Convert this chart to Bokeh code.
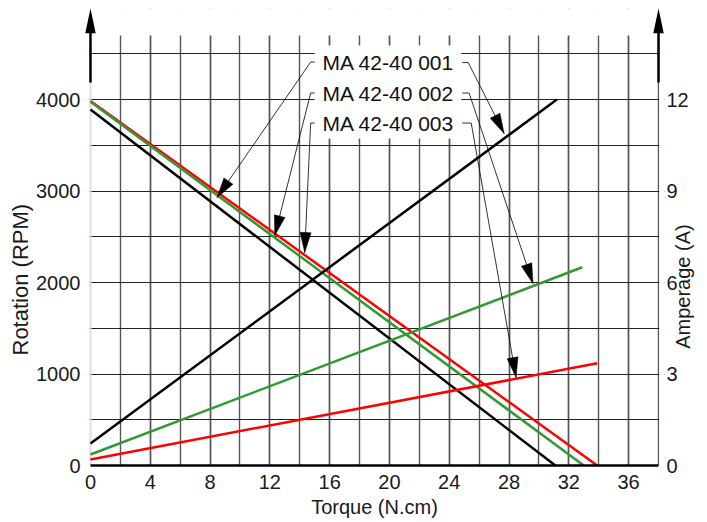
import math
from bokeh.plotting import figure
from bokeh.models import (Range1d, LinearAxis, SingleIntervalTicker, Label, Title,
                          BoxAnnotation, Arrow, PolyAnnotation, Span)
from bokeh.embed import file_html
from bokeh.resources import INLINE

# ---------------- data ----------------
models = ["MA 42-40 001", "MA 42-40 002", "MA 42-40 003"]
colors = ["#000000", "#339933", "#ff0000"]

# speed (RPM) vs torque (N.cm)
speed_torque = [[0, 31.1], [0, 33.0], [0, 33.9]]
speed_rpm = [[3890, 0], [3975, 0], [3985, 0]]

# current (A) vs torque (N.cm)
current_torque = [[0, 31.2], [0, 32.9], [0, 33.9]]
current_amp = [[0.72, 12.0], [0.36, 6.5], [0.2, 3.35]]

x_title = "Torque (N.cm)"
y_title = "Rotation (RPM)"
y2_title = "Amperage (A)"

FONT = "Liberation Sans"
X_MAX = 38            # last grid column (right axis)
GRID_TOP = 4700       # grid stops here
X_LO, X_HI = -0.4, 38.4
Y_MAX = 4995
AMP_PER_RPM = 0.003

W, H = 707, 522
BL, BR, BT, BB = 84, 41, 8, 57
SX = (W - BL - BR) / (X_HI - X_LO)   # px per torque unit
SY = (H - BT - BB) / Y_MAX           # px per rpm

p = figure(width=W, height=H, x_range=Range1d(X_LO, X_HI), y_range=Range1d(0, Y_MAX),
           output_backend="svg", toolbar_location=None,
           min_border_left=BL, min_border_right=BR, min_border_top=BT, min_border_bottom=BB)
p.extra_y_ranges = {"amp": Range1d(0, Y_MAX * AMP_PER_RPM)}
p.outline_line_color = None
p.background_fill_color = "white"
p.border_fill_color = "white"

# ---------------- axes ----------------
p.xaxis.ticker = SingleIntervalTicker(interval=4, num_minor_ticks=2)
p.yaxis.ticker = SingleIntervalTicker(interval=1000, num_minor_ticks=2)

ax2 = LinearAxis(y_range_name="amp", ticker=SingleIntervalTicker(interval=3, num_minor_ticks=0))
p.add_layout(ax2, "right")

for ax in (p.xaxis[0], p.yaxis[0], ax2):
    ax.major_tick_line_color = None
    ax.minor_tick_line_color = None
    ax.major_tick_out = 0
    ax.major_tick_in = 0
    ax.minor_tick_out = 0
    ax.minor_tick_in = 0
    ax.major_label_text_font = FONT
    ax.major_label_text_font_size = "20px"
    ax.major_label_text_color = "#1a1a1a"
    ax.axis_label_text_font = FONT
    ax.axis_label_text_font_style = "normal"
    ax.axis_label_text_color = "#1a1a1a"

p.xaxis.bounds = (0, X_MAX)
p.xaxis.axis_line_color = "black"
p.xaxis.axis_line_width = 2.5
p.xaxis.major_label_standoff = 9
p.xaxis.axis_label = x_title
p.xaxis.axis_label_text_font_size = "20px"
p.xaxis.axis_label_standoff = 4

p.yaxis.axis_line_color = None
p.yaxis.major_label_standoff = 4

# right axis: title reads bottom-to-top, in the lower half of the frame
ax2.axis_line_color = None
ax2.major_label_standoff = 2
ax2.axis_label_text_font_size = "20px"
ax2.axis_label_orientation = math.pi / 2
ax2.axis_label_standoff = -9
if "axis_label_align" in LinearAxis.properties():
    ax2.axis_label_align = "start"
    ax2.axis_label = "\u00a0" * 21 + y2_title
else:
    ax2.axis_label = y2_title

# left title, anchored from the bottom of the frame
t_left = Title(text=y_title, align="left", vertical_align="middle", offset=110, standoff=0,
               text_font=FONT, text_font_size="22px", text_font_style="normal",
               text_color="#1a1a1a")
p.add_layout(t_left, "left")

# ---------------- grid ----------------
p.xgrid.bounds = (1, X_MAX + 0.2)
p.xgrid.grid_line_color = "#555555"
p.xgrid.grid_line_width = 1.4
p.xgrid.minor_grid_line_color = "#555555"
p.xgrid.minor_grid_line_width = 1.4
p.ygrid.grid_line_color = "#222222"
p.ygrid.grid_line_width = 1
p.ygrid.minor_grid_line_color = "#222222"
p.ygrid.minor_grid_line_width = 1

# light left axis line
p.add_layout(Span(location=0, dimension="height", line_color="#dddddd", line_width=2,
                  level="underlay"))

# ---------------- data lines ----------------
for i in (2, 1, 0):
    p.line(speed_torque[i], speed_rpm[i], line_color=colors[i], line_width=2.5)
for i in (0, 1, 2):
    p.line(current_torque[i], current_amp[i], line_color=colors[i], line_width=2.5,
           y_range_name="amp")

# ---------------- leaders ----------------
leaders = [
    [(15.13, 4410), (14.73, 4410), (8.47, 2929)],
    [(15.13, 4071), (14.73, 4071), (12.33, 2514)],
    [(15.13, 3743), (14.73, 3743), (14.33, 2328)],
    [(24.87, 4404), (25.27, 4404), (27.67, 3628)],
    [(24.87, 4071), (25.33, 4071), (29.60, 1989)],
    [(24.87, 3743), (25.47, 3743), (28.47, 962)],
]


def head(p_from, p_to, length=20.0, half=5.5):
    dx = (p_to[0] - p_from[0]) * SX
    dy = (p_to[1] - p_from[1]) * SY
    L = math.hypot(dx, dy)
    ux, uy = dx / L, dy / L
    bx, by = -ux * length, -uy * length
    nx, ny = -uy, ux
    xs = [p_to[0], p_to[0] + (bx + nx * half) / SX, p_to[0] + (bx - nx * half) / SX]
    ys = [p_to[1], p_to[1] + (by + ny * half) / SY, p_to[1] + (by - ny * half) / SY]
    return xs, ys


hx, hy = [], []
for pts in leaders:
    p.line([q[0] for q in pts], [q[1] for q in pts], line_color="black", line_width=0.8)
    xs, ys = head(pts[1], pts[2])
    hx.append(xs)
    hy.append(ys)
p.patches(hx, hy, fill_color="black", line_color="black", line_width=0.5)

# ---------------- white masks ----------------
p.add_layout(BoxAnnotation(left=X_LO - 1, right=X_HI + 1, bottom=GRID_TOP, top=Y_MAX + 100,
                           fill_color="white", fill_alpha=1.0, line_color=None))
p.add_layout(BoxAnnotation(left=X_LO - 1, right=-0.08, bottom=-100, top=Y_MAX + 100,
                           fill_color="white", fill_alpha=1.0, line_color=None))
p.add_layout(BoxAnnotation(left=X_MAX + 0.05, right=X_HI + 1, bottom=-100, top=Y_MAX + 100,
                           fill_color="white", fill_alpha=1.0, line_color=None))

# white box behind the model labels
p.add_layout(BoxAnnotation(left=15.0, right=24.8, bottom=3574, top=4591,
                           fill_color="white", fill_alpha=1.0, line_color=None))
for txt, yy in zip(models, [4410, 4071, 3743]):
    p.add_layout(Label(x=19.93, y=yy, text=txt, text_align="center", text_baseline="middle",
                       text_font=FONT, text_font_size="21px", text_color="#111111"))

# ---------------- axis arrows ----------------
for xa in (0, X_MAX):
    p.add_layout(Arrow(end=None, x_start=xa, y_start=4186, x_end=xa, y_end=4730,
                       line_color="black", line_width=2.5))
    p.add_layout(PolyAnnotation(xs=[xa - 0.35, xa + 0.35, xa], ys=[4725, 4725, Y_MAX],
                                fill_color="black", fill_alpha=1.0, line_color=None))

open("out.html", "w").write(file_html(p, INLINE))
